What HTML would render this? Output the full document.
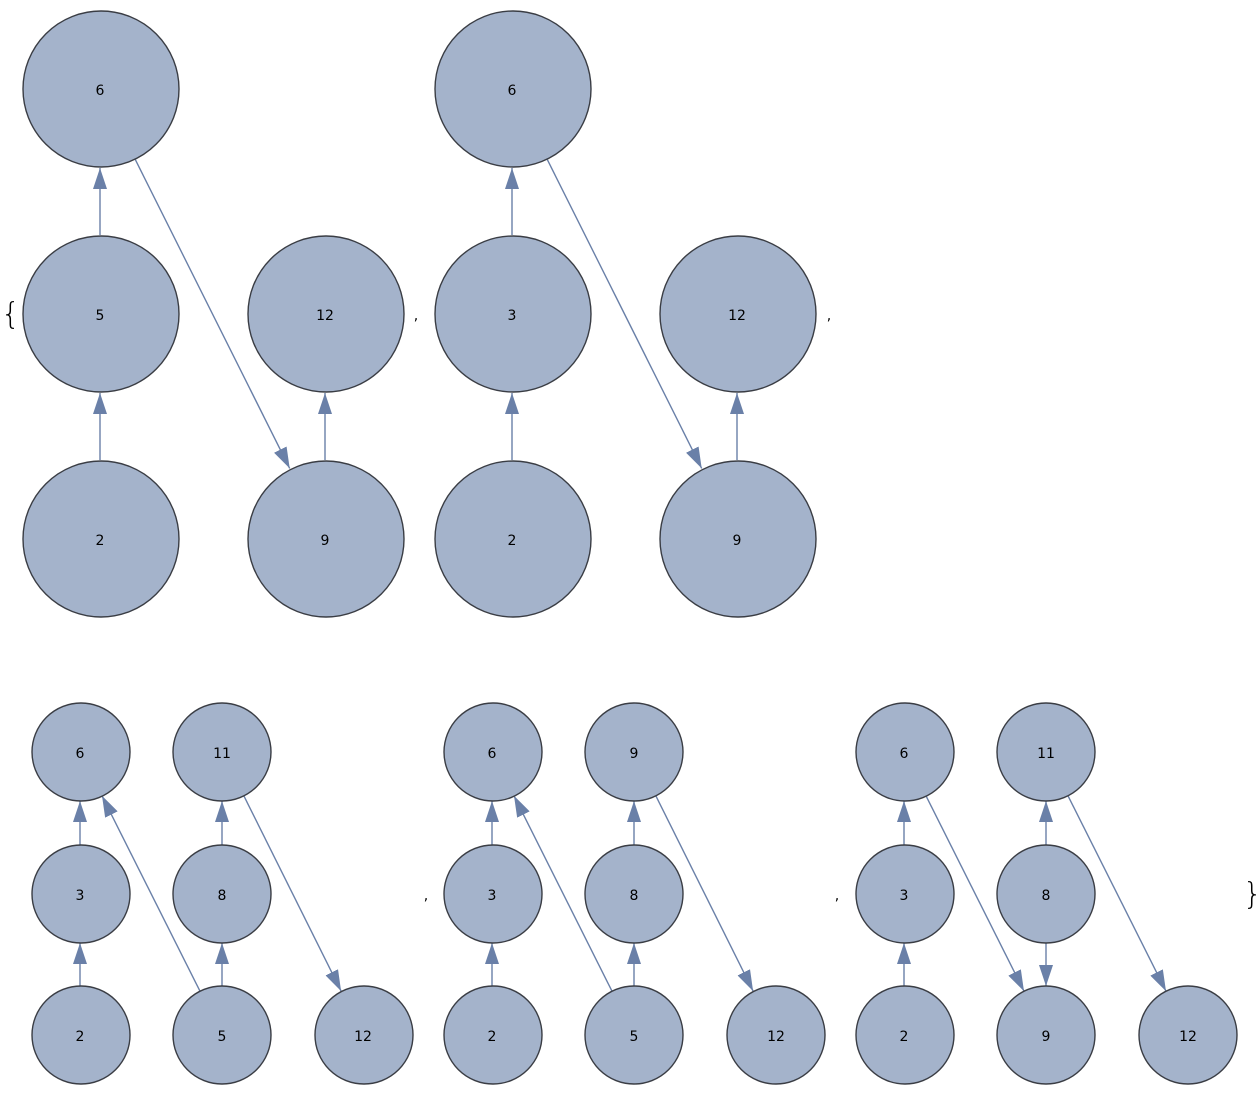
<!DOCTYPE html>
<html><head><meta charset="utf-8"><style>
html,body{margin:0;padding:0;background:#fff;}
svg text{font-family:"DejaVu Sans","Liberation Sans",sans-serif;font-size:14px;fill:#000;}
</style></head><body>
<svg width="1260" height="1094" viewBox="0 0 1260 1094" xmlns="http://www.w3.org/2000/svg">
<defs>
<marker id="a" markerUnits="userSpaceOnUse" markerWidth="24" markerHeight="16" refX="21" refY="7" orient="auto">
<path d="M0,0 L21,7 L0,14 z" fill="#6a80a8"/>
</marker>
</defs>
<g stroke="#6a80a8" stroke-width="1.4" fill="none" marker-end="url(#a)">
<line x1="100" y1="460" x2="100" y2="393"/>
<line x1="100" y1="235" x2="100" y2="168"/>
<line x1="325" y1="460" x2="325" y2="393"/>
<line x1="135.3" y1="159.6" x2="289.7" y2="468.4"/>
<line x1="512" y1="460" x2="512" y2="393"/>
<line x1="512" y1="235" x2="512" y2="168"/>
<line x1="737" y1="460" x2="737" y2="393"/>
<line x1="547.3" y1="159.6" x2="701.7" y2="468.4"/>
<line x1="80" y1="986" x2="80" y2="943"/>
<line x1="80" y1="845" x2="80" y2="801"/>
<line x1="222" y1="986" x2="222" y2="943"/>
<line x1="222" y1="845" x2="222" y2="801"/>
<line x1="200" y1="991.2" x2="102" y2="795.8"/>
<line x1="243.9" y1="795.9" x2="341.1" y2="991.1"/>
<line x1="492" y1="986" x2="492" y2="943"/>
<line x1="492" y1="845" x2="492" y2="801"/>
<line x1="634" y1="986" x2="634" y2="943"/>
<line x1="634" y1="845" x2="634" y2="801"/>
<line x1="612" y1="991.2" x2="514" y2="795.8"/>
<line x1="655.9" y1="795.9" x2="753.1" y2="991.1"/>
<line x1="904" y1="986" x2="904" y2="943"/>
<line x1="904" y1="845" x2="904" y2="801"/>
<line x1="1046" y1="943" x2="1046" y2="986"/>
<line x1="1046" y1="845" x2="1046" y2="801"/>
<line x1="926" y1="795.8" x2="1024" y2="991.2"/>
<line x1="1068" y1="795.8" x2="1166" y2="991.2"/>
</g>
<g fill="#a4b3cb" stroke="#3a3d44" stroke-width="1.4">
<circle cx="101" cy="89" r="78"/><circle cx="101" cy="314" r="78"/><circle cx="101" cy="539" r="78"/>
<circle cx="326" cy="314" r="78"/><circle cx="326" cy="539" r="78"/>
<circle cx="513" cy="89" r="78"/><circle cx="513" cy="314" r="78"/><circle cx="513" cy="539" r="78"/>
<circle cx="738" cy="314" r="78"/><circle cx="738" cy="539" r="78"/>
<circle cx="81" cy="752" r="49"/><circle cx="222" cy="752" r="49"/><circle cx="81" cy="894" r="49"/><circle cx="222" cy="894" r="49"/><circle cx="81" cy="1035" r="49"/><circle cx="222" cy="1035" r="49"/><circle cx="364" cy="1035" r="49"/>
<circle cx="493" cy="752" r="49"/><circle cx="634" cy="752" r="49"/><circle cx="493" cy="894" r="49"/><circle cx="634" cy="894" r="49"/><circle cx="493" cy="1035" r="49"/><circle cx="634" cy="1035" r="49"/><circle cx="776" cy="1035" r="49"/>
<circle cx="905" cy="752" r="49"/><circle cx="1046" cy="752" r="49"/><circle cx="905" cy="894" r="49"/><circle cx="1046" cy="894" r="49"/><circle cx="905" cy="1035" r="49"/><circle cx="1046" cy="1035" r="49"/><circle cx="1188" cy="1035" r="49"/>
</g>
<g text-anchor="middle">
<text x="100" y="95">6</text><text x="100" y="320">5</text><text x="100" y="545">2</text><text x="325" y="320">12</text><text x="325" y="545">9</text>
<text x="512" y="95">6</text><text x="512" y="320">3</text><text x="512" y="545">2</text><text x="737" y="320">12</text><text x="737" y="545">9</text>
<text x="80" y="758">6</text><text x="222" y="758">11</text><text x="80" y="900">3</text><text x="222" y="900">8</text><text x="80" y="1041">2</text><text x="222" y="1041">5</text><text x="363" y="1041">12</text>
<text x="492" y="758">6</text><text x="634" y="758">9</text><text x="492" y="900">3</text><text x="634" y="900">8</text><text x="492" y="1041">2</text><text x="634" y="1041">5</text><text x="776" y="1041">12</text>
<text x="904" y="758">6</text><text x="1046" y="758">11</text><text x="904" y="900">3</text><text x="1046" y="900">8</text><text x="904" y="1041">2</text><text x="1046" y="1041">9</text><text x="1188" y="1041">12</text>
<g style="font-size:20px"><text x="416" y="320">,</text><text x="829" y="320">,</text><text x="426" y="900">,</text><text x="837" y="900">,</text></g>
</g>
<text x="1" y="324" style="font-size:30px;font-weight:200">{</text>
<text x="1243" y="904" style="font-size:30px;font-weight:200">}</text>
</svg>
</body></html>
